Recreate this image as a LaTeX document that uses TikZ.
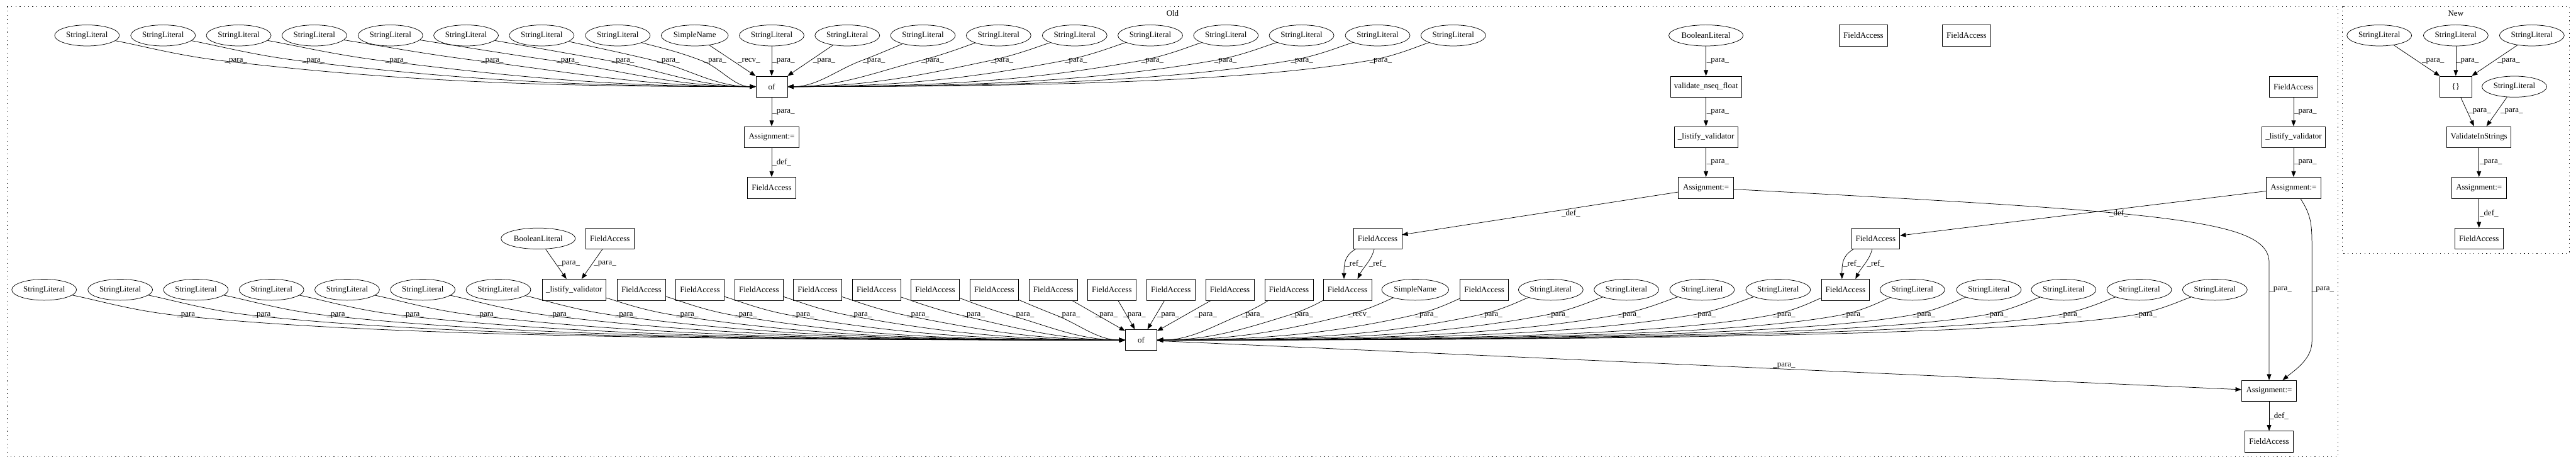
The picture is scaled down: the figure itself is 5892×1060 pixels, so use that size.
\documentclass[tikz,border=0pt]{standalone}
\usepackage{fontspec}
\setmainfont{Liberation Serif}
\usetikzlibrary{shapes.geometric,arrows.meta,calc}
\newcommand\gvfont{\fontsize{14pt}{16pt}\selectfont}
\tikzset{
 nd/.style={draw, line width=0.8pt, inner sep=0pt, minimum height=36pt, font=\gvfont},
 sl/.style={nd, ellipse, minimum width=111pt},
 snm/.style={nd, ellipse, minimum width=115pt},
 bool/.style={nd, ellipse, minimum width=127.5pt},
 fa/.style={nd, rectangle, minimum width=83pt},
 ofb/.style={nd, rectangle, minimum width=54pt},
 asg/.style={nd, rectangle, minimum width=94.5pt},
 lst/.style={nd, rectangle, minimum width=109.5pt},
 valb/.style={nd, rectangle, minimum width=121.5pt},
 vis/.style={nd, rectangle, minimum width=110pt},
 conn/.style={draw, line width=0.8pt, -{Triangle[length=10pt,width=7.5pt]}},
 lab/.style={font=\gvfont, inner sep=0pt},
 midlab/.style={font=\gvfont, inner sep=1pt, anchor=west},
 cluster/.style={draw, line width=0.9pt, dash pattern=on 1.2pt off 6pt},
}
% #1 src, #2 src x, #3 target anchor, #4 target x, #5 src y, #6 label x, #7 text
\newcommand\fan[7]{%
 \pgfmathsetmacro\fpx{#6-30}%
 \pgfmathsetmacro\fpy{#5+58}%
 \pgfmathsetmacro\fvax{\fpx-#2}%
 \pgfmathsetmacro\fla{veclen(\fvax,58)}%
 \pgfmathsetmacro\fvbx{#4-\fpx}%
 \pgfmathsetmacro\flb{veclen(\fvbx,59)}%
 \pgfmathsetmacro\fux{\fvax/\fla+\fvbx/\flb}%
 \pgfmathsetmacro\fuy{58/\fla+59/\flb}%
 \pgfmathsetmacro\flu{veclen(\fux,\fuy)}%
 \pgfmathsetmacro\fux{\fux/\flu}%
 \pgfmathsetmacro\fuy{\fuy/\flu}%
 \pgfmathsetmacro\fha{min(\fla/3,50/\fuy)}%
 \pgfmathsetmacro\fhb{min(\flb/3,50/\fuy)}%
 \pgfmathsetmacro\fcax{0.4*\fvax}%
 \pgfmathsetmacro\fcbx{-\fha*\fux}\pgfmathsetmacro\fcby{-\fha*\fuy}%
 \pgfmathsetmacro\fccx{\fhb*\fux}\pgfmathsetmacro\fccy{\fhb*\fuy}%
 \pgfmathsetmacro\fcdx{-0.4*\fvbx}%
 \draw[conn] (#1) .. controls +(\fcax,23.2) and +(\fcbx,\fcby) .. (\fpx,\fpy) .. controls +(\fccx,\fccy) and +(\fcdx,0) .. (#3) node[lab] at (#6,\fpy) {#7};%
}
\begin{document}
\begin{tikzpicture}[x=0.75pt,y=-0.75pt]
\useasboundingbox (0,0) rectangle (5892,1060);
% clusters
\draw[cluster] (16,15) rectangle (5348,1044);
\draw[cluster] (5358,15) rectangle (5876,579);
\node[lab] (oldlab) at (2682,30) {Old};
\node[lab] (newlab) at (5617,30) {New};
% ---------- Old: top group
\foreach \nm/\xx in {t1/199,t2/373,t3/546,t4/719,t5/893,t6/1066,t7/1239,t8/1413,t10/1765,t11/1938,t12/2111,t13/2284,t14/2458,t15/2631,t16/2804,t17/2977,t18/3151,t19/3324}
  \node[sl] (\nm) at (\xx,81) {StringLiteral};
\node[snm] (t9) at (1589,81) {SimpleName};
\node[ofb] (of1) at (1765,198) {of};
\node[asg] (A1) at (1765,313) {Assignment:=};
\node[fa] (FA1) at (1765,429) {FieldAccess};
% middle chain
\node[bool] (blit2) at (3902,81) {BooleanLiteral};
\node[valb] (val) at (3902,198) {validate\_nseq\_float};
\node[lst] (lst2) at (3902,313) {\_listify\_validator};
\node[asg] (A2) at (3902,429) {Assignment:=};
\node[fa] (fai1) at (4262,81) {FieldAccess};
\node[fa] (fai2) at (4498,81) {FieldAccess};
% right chain
\node[fa] (fa3) at (5246,198) {FieldAccess};
\node[lst] (lst3) at (5246,313) {\_listify\_validator};
\node[asg] (A3) at (5246,429) {Assignment:=};
% level 545
\node[bool] (blit1) at (1231,545) {BooleanLiteral};
\node[fa] (fa0) at (1395,545) {FieldAccess};
\node[fa] (fr1) at (3151,545) {FieldAccess};
\node[fa] (fr2) at (4290,545) {FieldAccess};
% row 662
\foreach \nm/\xx in {b1/101,b2/275,b3/448,b4/621,b5/794,b6/967,b7/1140,s1/3547,s2/3720,s3/3893,s4/4067,s5/4374,s6/4549,s7/4720,s8/4893,s9/5066}
  \node[sl] (\nm) at (\xx,662) {StringLiteral};
\foreach \nm/\xx in {f1/1467,f2/1601,f3/1736,f4/1870,f5/2005,f6/2139,f7/2274,f8/2409,f9/2543,f10/2678,f11/2813,f12/2948,r1/3082,fb/3395,r2/4221}
  \node[fa] (\nm) at (\xx,662) {FieldAccess};
\node[lst] (lst1) at (1313,662) {\_listify\_validator};
\node[snm] (sn) at (3237,662) {SimpleName};
\node[ofb] (of2) at (2610,777) {of};
\node[asg] (A4) at (5190,893) {Assignment:=};
\node[fa] (FA4) at (5190,1009) {FieldAccess};
% ---------- New
\node[sl] (n1) at (5442,81) {StringLiteral};
\node[sl] (n2) at (5617,81) {StringLiteral};
\node[sl] (n3) at (5791,81) {StringLiteral};
\node[ofb] (nb) at (5617,198) {\{\}};
\node[sl] (n4) at (5751,198) {StringLiteral};
\node[vis] (nv) at (5670,313) {ValidateInStrings};
\node[asg] (na) at (5670,429) {Assignment:=};
\node[fa] (nf) at (5670,545) {FieldAccess};

% ---------- edges: top fan
\foreach \nm/\xx/\lx in {t1/199/540,t2/373/717,t3/546/907,t4/719/1126,t5/893/1299,t6/1066/1425,t7/1239/1529,t8/1413/1636}
  {\fan{\nm}{\xx}{of1.west}{1729}{81}{\lx}{\_para\_}}
\foreach \nm/\xx/\lx in {t12/2111/1999,t13/2284/2133,t14/2458/2292,t15/2631/2461,t16/2804/2636,t17/2977/2803,t18/3151/2978,t19/3324/3158}
  {\fan{\nm}{\xx}{of1.east}{1801}{81}{\lx}{\_para\_}}
\draw[conn] (t9) -- (of1) node[lab] at (1713,139) {\_recv\_};
\draw[conn] (t10) -- node[midlab] {\_para\_} (of1);
\draw[conn] (t11) -- (of1) node[lab] at (1885,139) {\_para\_};
\draw[conn] (of1) -- node[midlab] {\_para\_} (A1);
\draw[conn] (A1) -- node[midlab] {\_def\_} (FA1);
% middle chain
\draw[conn] (blit2) -- node[midlab] {\_para\_} (val);
\draw[conn] (val) -- node[midlab] {\_para\_} (lst2);
\draw[conn] (lst2) -- node[midlab] {\_para\_} (A2);
\draw[conn] (A2) -- (fr1) node[lab] at (3593,487) {\_def\_};
\draw[conn] (A2) .. controls (4950,485) and (5190,500) .. (5190,600) -- (A4) node[lab] at (5216,662) {\_para\_};
% right chain
\draw[conn] (fa3) -- node[midlab] {\_para\_} (lst3);
\draw[conn] (lst3) -- node[midlab] {\_para\_} (A3);
\draw[conn] (A3) -- (fr2) node[lab] at (4846,487) {\_def\_};
\draw[conn] (A3) .. controls (5285,490) and (5288,510) .. (5288,560) -- (5288,780) .. controls (5288,820) and (5250,845) .. (A4) node[lab] at (5313,662) {\_para\_};
% ref edges
\draw[conn] ($(fr1.south)+(-51,0)$) .. controls +(-25,15) and +(0,-35) .. ($(r1.north)+(-8,0)$);
\draw[conn] ($(fr1.south)+(-8,0)$) .. controls +(-6,25) and +(12,-25) .. ($(r1.north)+(23,0)$);
\node[lab] (rl1) at (3097,603) {\_ref\_};
\node[lab] (rl2) at (3151,603) {\_ref\_};
\draw[conn] ($(fr2.south)+(-51,0)$) .. controls +(-25,15) and +(0,-35) .. ($(r2.north)+(-8,0)$);
\draw[conn] ($(fr2.south)+(-8,0)$) .. controls +(-6,25) and +(12,-25) .. ($(r2.north)+(23,0)$);
\node[lab] (rl3) at (4236,603) {\_ref\_};
\node[lab] (rl4) at (4290,603) {\_ref\_};
% lower-left into listify
\draw[conn] (blit1) -- (lst1) node[lab] at (1301,603) {\_para\_};
\draw[conn] (fa0) -- (lst1) node[lab] at (1384,603) {\_para\_};
% lower fan
\foreach \nm/\xx/\lx in {b1/101/430,b2/275/603,b3/448/773,b4/621/944,b5/794/1113,b6/967/1280,b7/1140/1432,lst1/1313/1572,f1/1467/1706,f2/1601/1837,f3/1736/1969,f4/1870/2100,f5/2005/2227,f6/2139/2340,f7/2274/2445}
  {\fan{\nm}{\xx}{of2.west}{2574}{662}{\lx}{\_para\_}}
\foreach \nm/\xx/\lx in {f12/2948/2866,r1/3082/2978,fb/3395/3263,s1/3547/3411,s2/3720/3564,s3/3893/3727,s4/4067/3899,r2/4221/4081,s5/4374/4239,s6/4549/4401,s7/4720/4567,s8/4893/4735,s9/5066/4908}
  {\fan{\nm}{\xx}{of2.east}{2646}{662}{\lx}{\_para\_}}
\fan{sn}{3237}{of2.east}{2646}{662}{3110}{\_recv\_}
\draw[conn] (f8) -- (of2) node[lab] at (2531,721) {\_para\_};
\draw[conn] (f9) -- (of2) node[lab] at (2595,721) {\_para\_};
\draw[conn] (f10) -- (of2) node[lab] at (2672,721) {\_para\_};
\draw[conn] (f11) -- (of2) node[lab] at (2758,721) {\_para\_};
\draw[conn] (of2) -- (A4) node[lab] at (4081,836) {\_para\_};
\draw[conn] (A4) -- node[midlab] {\_def\_} (FA4);
% ---------- New edges
\draw[conn] (n1) -- (nb) node[lab] at (5565,139) {\_para\_};
\draw[conn] (n2) -- node[midlab] {\_para\_} (nb);
\draw[conn] (n3) -- (nb) node[lab] at (5738,139) {\_para\_};
\draw[conn] (nb) -- (nv) node[lab] at (5672,255) {\_para\_};
\draw[conn] (n4) -- (nv) node[lab] at (5745,255) {\_para\_};
\draw[conn] (nv) -- node[midlab] {\_para\_} (na);
\draw[conn] (na) -- node[midlab] {\_def\_} (nf);
\end{tikzpicture}
\end{document}
